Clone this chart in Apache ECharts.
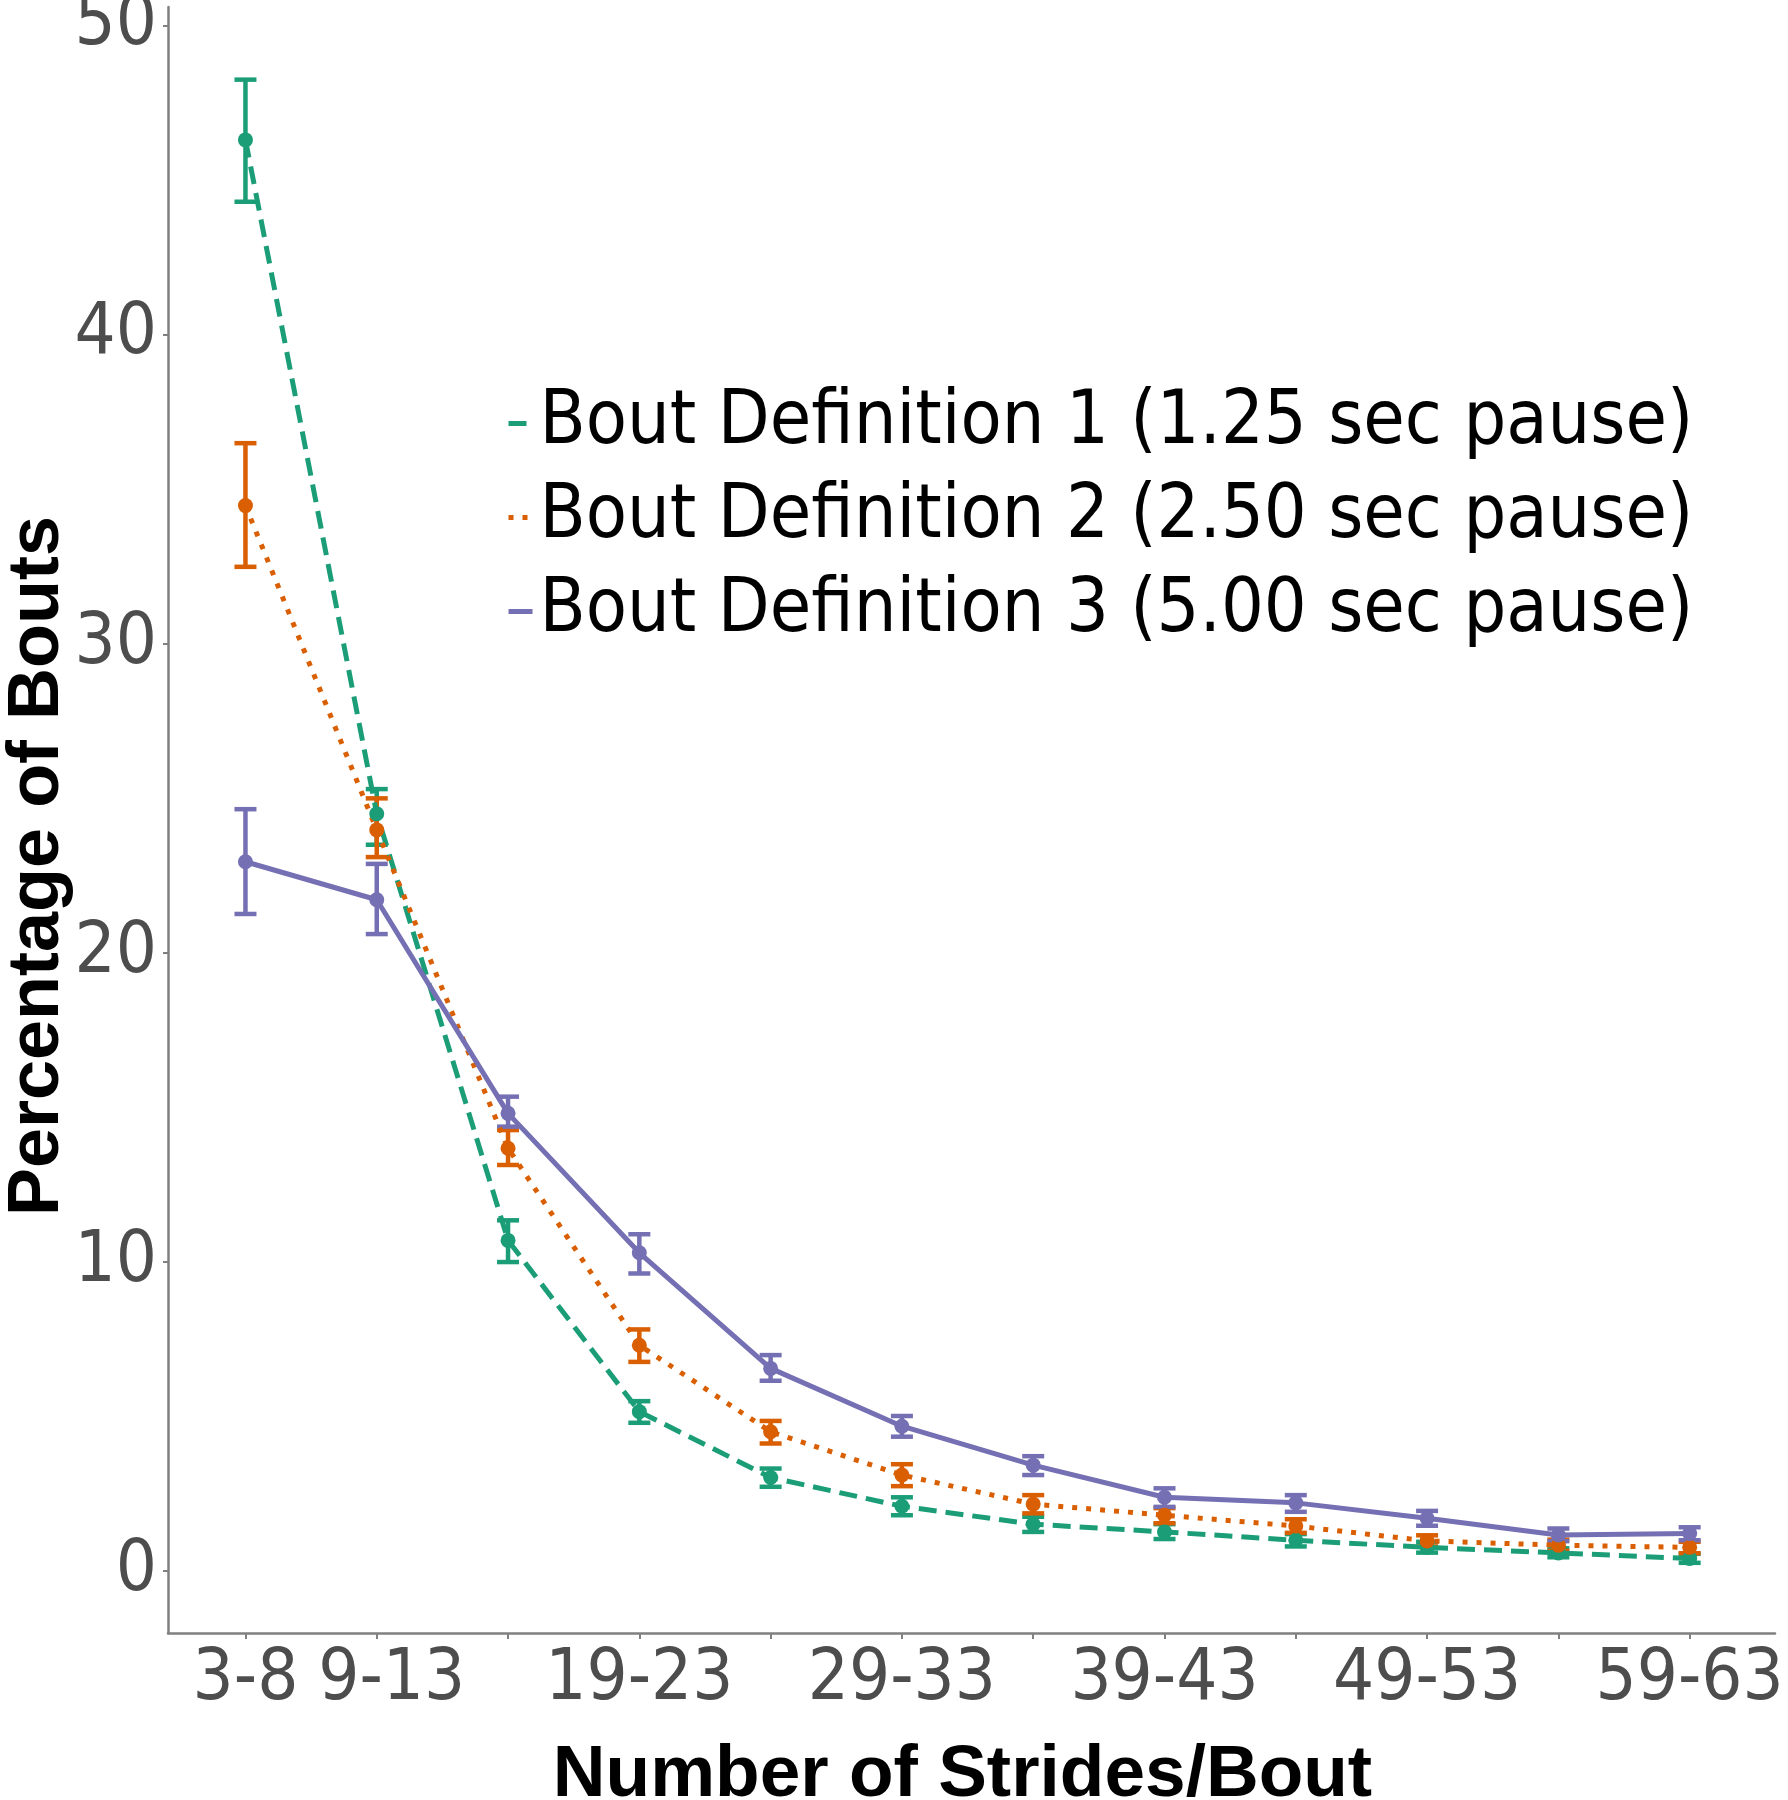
<!DOCTYPE html>
<html><head><meta charset="utf-8">
<script src="https://cdn.jsdelivr.net/npm/echarts@6/dist/echarts.min.js"></script>
<style>html,body{margin:0;padding:0;background:#fff}#c{width:1788px;height:1800px}</style>
</head><body><div id="c"></div>
<script>
// ---- data ----
const categories = ['3-8','9-13','14-18','19-23','24-28','29-33','34-38','39-43','44-48','49-53','54-58','59-63'];
const shownLabelIdx = [0,1,3,5,7,9,11];
const yTicks = [0,10,20,30,40,50];
const seriesNames = ['Bout Definition 1 (1.25 sec pause)','Bout Definition 2 (2.50 sec pause)','Bout Definition 3 (5.00 sec pause)'];

const def1Mean = [46.3, 24.5, 10.7, 5.16, 3.03, 2.10, 1.52, 1.27, 1.00, 0.77, 0.59, 0.41];
const def1Lo   = [44.3, 23.5, 10.0, 4.80, 2.73, 1.81, 1.27, 1.04, 0.80, 0.60, 0.45, 0.27];
const def1Hi   = [48.25,25.3, 11.35,5.50, 3.32, 2.39, 1.76, 1.52, 1.20, 0.95, 0.74, 0.56];

const def2Mean = [34.47,23.98,13.68,7.31, 4.51, 3.11, 2.17, 1.81, 1.46, 0.98, 0.84, 0.77];
const def2Lo   = [32.49,23.1, 13.14,6.77, 4.13, 2.75, 1.87, 1.55, 1.24, 0.80, 0.66, 0.58];
const def2Hi   = [36.49,25.0, 14.27,7.82, 4.86, 3.46, 2.46, 2.04, 1.68, 1.16, 1.02, 0.95];

const def3Mean = [22.95,21.72,14.81,10.30,6.56, 4.69, 3.43, 2.39, 2.21, 1.71, 1.17, 1.22];
const def3Lo   = [21.26,20.61,14.38,9.63, 6.16, 4.35, 3.11, 2.08, 1.92, 1.47, 0.97, 1.00];
const def3Hi   = [24.65,22.88,15.35,10.90,6.99, 5.02, 3.72, 2.68, 2.46, 1.95, 1.38, 1.42];

// ---- styling ----
const colors = ['#1b9e77','#d95f02','#7570b3'];
const dashes = [[18,9],[5,9],'solid'];
const FONT = '"DejaVu Sans Condensed", "DejaVu Sans", sans-serif';
const BOLD = '"Liberation Sans", Arial, sans-serif';

const means = [def1Mean, def2Mean, def3Mean];
const los = [def1Lo, def2Lo, def3Lo];
const his = [def1Hi, def2Hi, def3Hi];

function errRender(color) {
  return function (params, api) {
    const x = api.value(0), lo = api.value(1), hi = api.value(2);
    const pLo = api.coord([x, lo]), pHi = api.coord([x, hi]);
    const hw = 11;
    const style = { stroke: color, lineWidth: 4.5, fill: null };
    return { type: 'group', children: [
      { type: 'line', shape: { x1: pLo[0], y1: pLo[1], x2: pHi[0], y2: pHi[1] }, style: style },
      { type: 'line', shape: { x1: pLo[0] - hw, y1: pLo[1], x2: pLo[0] + hw, y2: pLo[1] }, style: style },
      { type: 'line', shape: { x1: pHi[0] - hw, y1: pHi[1], x2: pHi[0] + hw, y2: pHi[1] }, style: style }
    ]};
  };
}

const series = [];
for (let s = 0; s < 3; s++) {
  series.push({
    type: 'custom', name: 'err' + s, renderItem: errRender(colors[s]),
    data: categories.map((c, i) => [i, los[s][i], his[s][i]]),
    encode: { x: 0, y: [1, 2] }, z: 2, silent: true
  });
}
for (let s = 0; s < 3; s++) {
  series.push({
    type: 'line', name: seriesNames[s],
    data: categories.map((c, i) => [i, means[s][i]]),
    symbol: 'circle', symbolSize: 15, showSymbol: true,
    itemStyle: { color: colors[s] },
    lineStyle: { color: colors[s], width: 5, type: dashes[s], cap: 'butt' },
    z: 3, animation: false
  });
}

const chart = echarts.init(document.getElementById('c'), null, { renderer: 'canvas' });
chart.setOption({
  animation: false,
  backgroundColor: '#ffffff',
  grid: { left: 168, right: 13, top: 7, bottom: 167, containLabel: false, outerBoundsMode: 'none' },
  legend: {
    orient: 'vertical', left: 501, top: 381,
    itemWidth: 24, itemHeight: 6, itemGap: 19,
    itemStyle: { opacity: 0 },
    lineStyle: { width: 5 },
    textStyle: { fontFamily: FONT, fontSize: 75, color: '#000', lineHeight: 75, padding: [0, 0, 0, 2] },
    data: seriesNames
  },
  xAxis: {
    type: 'value', min: -0.59, max: 11.65,
    axisLine: { show: true, onZero: false, lineStyle: { color: '#808080', width: 2.5 } },
    axisTick: { show: true, length: 6, lineStyle: { color: '#808080', width: 2 }, customValues: categories.map((c, i) => i) },
    axisLabel: {
      customValues: shownLabelIdx,
      formatter: function (v) { const i = Math.round(v); return i === 1 ? '{s|' + categories[i] + '}' : categories[i]; },
      fontFamily: FONT, fontSize: 72, color: '#4d4d4d', margin: 11,
      rich: { s: { fontFamily: FONT, fontSize: 72, color: '#4d4d4d', padding: [0, 0, 0, 30] } }
    },
    splitLine: { show: false },
    name: 'Number of Strides/Bout', nameLocation: 'middle', nameGap: 106,
    nameTextStyle: { fontFamily: BOLD, fontWeight: 'bold', fontSize: 73, color: '#000', padding: [0, 18, 0, 0] }
  },
  yAxis: {
    type: 'value', min: -2.0, max: 50.6,
    axisLine: { show: true, onZero: false, lineStyle: { color: '#808080', width: 2.5 } },
    axisTick: { show: true, length: 5, lineStyle: { color: '#808080', width: 2 }, customValues: yTicks },
    axisLabel: { customValues: yTicks, fontFamily: FONT, fontSize: 72, color: '#4d4d4d', margin: 11, padding: [10, 0, 0, 0] },
    splitLine: { show: false },
    name: 'Percentage of Bouts', nameLocation: 'middle', nameRotate: 90, nameGap: 94, nameMoveOverlap: false,
    nameTextStyle: { fontFamily: BOLD, fontWeight: 'bold', fontSize: 72, color: '#000', padding: [0, 92, 0, 0] }
  },
  series: series
});
</script>
</body></html>
